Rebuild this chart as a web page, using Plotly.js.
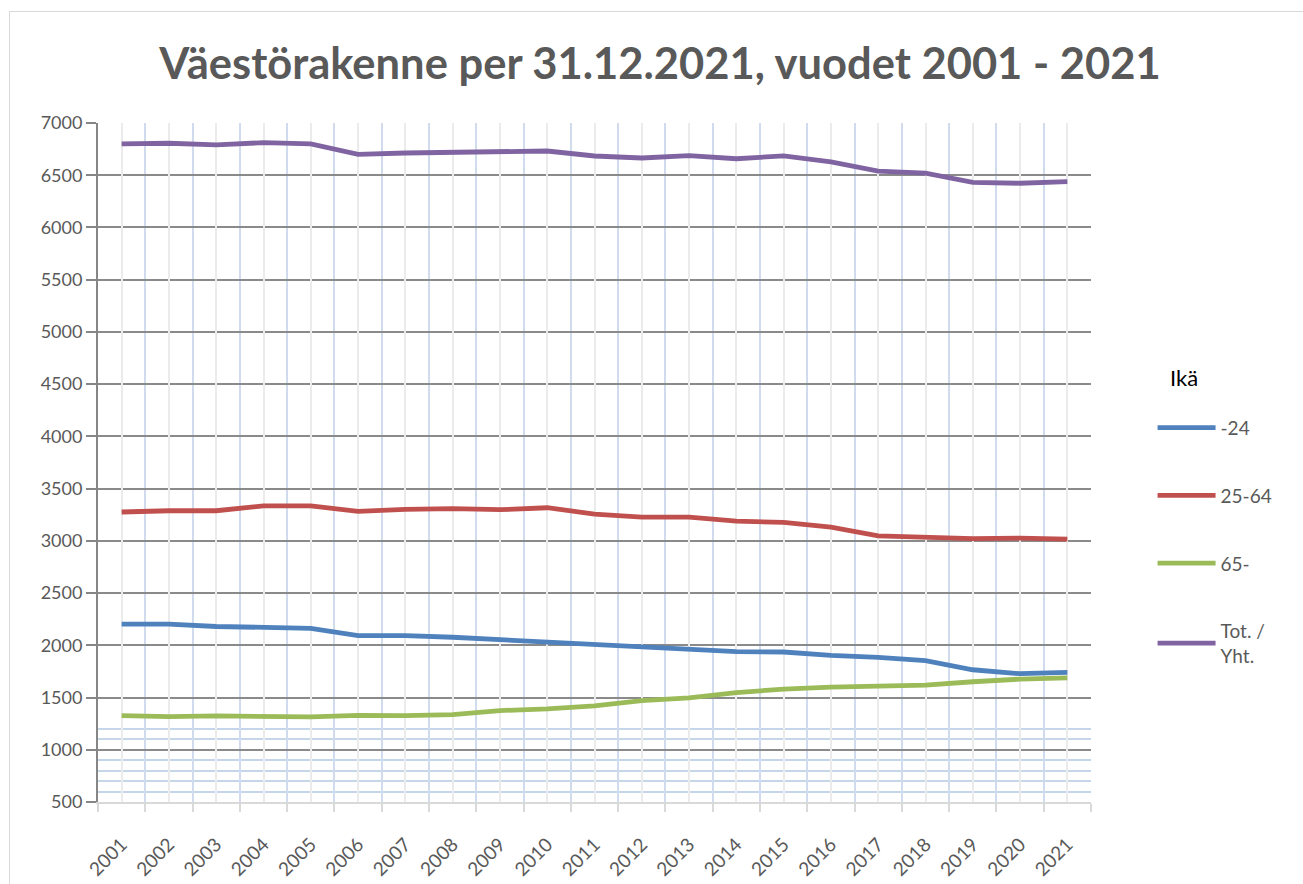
<!DOCTYPE html>
<html>
<head>
<meta charset="utf-8">
<script src="https://cdn.plot.ly/plotly-3.0.1.min.js"></script>
<style>
  html, body { margin: 0; padding: 0; background: #fff; }
  #wrap { position: relative; width: 1303px; height: 884px; }
  #chart { width: 1303px; height: 884px; }
  #frame { position: absolute; left: 9px; top: 11px; width: 1300px; height: 900px;
           border-left: 1.5px solid #d9d9d9; border-top: 1.5px solid #d9d9d9; pointer-events: none; }
</style>
</head>
<body>
<div id="wrap">
  <div id="chart"></div>
  <div id="frame"></div>
</div>
<script>
const years = ['2001','2002','2003','2004','2005','2006','2007','2008','2009','2010','2011',
               '2012','2013','2014','2015','2016','2017','2018','2019','2020','2021'];
const young = [2202,2202,2180,2173,2163,2093,2093,2077,2054,2035,2010,1981,1965,1939,1936,1904,1885,1853,1766,1728,1740];
const working = [3276,3288,3288,3335,3335,3282,3301,3308,3298,3317,3256,3228,3228,3189,3176,3131,3048,3038,3022,3026,3016];
const elderly = [1327,1317,1324,1314,1314,1330,1327,1337,1375,1392,1420,1471,1497,1548,1580,1599,1606,1619,1651,1676,1689];
const total = [6800,6806,6790,6812,6800,6700,6713,6716,6718,6732,6684,6665,6688,6658,6685,6627,6540,6520,6432,6423,6438];
const seriesNames = ['-24','25-64','65-','Tot. /<br>Yht.'];
const seriesColors = ['#4f81bd','#c0504d','#9bbb59','#8064a2'];
const legendTitle = 'Ikä';
const chartTitle = 'Väestörakenne per 31.12.2021, vuodet 2001 - 2021';
const yTickVals = [500,1000,1500,2000,2500,3000,3500,4000,4500,5000,5500,6000,6500,7000];
const minorGridVals = [600,700,800,900,1100,1200];

const FONT = 'Lato, "Open Sans", sans-serif';
const allSeries = [young, working, elderly, total];

const traces = allSeries.map((vals, i) => ({
  type: 'scatter', mode: 'lines',
  x: years, y: vals,
  name: seriesNames[i],
  legendgroup: 'g' + i,
  line: { color: seriesColors[i], width: 4.8, shape: 'linear' },
  hoverinfo: 'x+y+name'
}));

// helper trace so the category-centre gridline axis is drawn
traces.push({
  type: 'scatter', mode: 'lines', x: years.map((_, i) => i), y: total,
  xaxis: 'x2', yaxis: 'y', showlegend: false, hoverinfo: 'skip',
  line: { color: 'rgba(0,0,0,0)', width: 0 }
});

const layout = {
  width: 1303, height: 884,
  paper_bgcolor: '#ffffff', plot_bgcolor: '#ffffff',
  margin: { l: 98, r: 212, t: 123, b: 82 },
  font: { family: FONT, color: '#595959', size: 18 },
  title: {
    text: '<b>' + chartTitle + '</b>',
    font: { family: FONT, size: 43.5, color: '#595959' },
    x: (660 - 98) / 993, xref: 'paper', xanchor: 'center',
    y: 1 - 64/884, yref: 'container', yanchor: 'middle'
  },
  xaxis: {
    type: 'category',
    categoryorder: 'array', categoryarray: years,
    range: [-0.5, 20.5],
    tickson: 'boundaries',
    ticks: 'outside', ticklen: 8, tickwidth: 1.5, tickcolor: '#d9d9d9',
    showline: true, linecolor: '#d9d9d9', linewidth: 2,
    showgrid: true, gridcolor: '#d0dcee', gridwidth: 1.5,
    tickangle: -45,
    ticklabelstandoff: 22,
    tickfont: { family: FONT, size: 19, color: '#595959' },
    zeroline: false, fixedrange: true
  },
  xaxis2: {
    type: 'linear', overlaying: 'x', anchor: 'y',
    range: [-0.5, 20.5], tick0: 0, dtick: 1,
    showgrid: true, gridcolor: '#ebebeb', gridwidth: 1.5,
    showticklabels: false, ticks: '', showline: false, zeroline: false, fixedrange: true
  },
  yaxis: {
    range: [500, 7000],
    tickmode: 'array', tickvals: yTickVals,
    ticksuffix: '\u00a0\u00a0\u00a0',
    ticks: 'outside', ticklen: 10, tickwidth: 1.5, tickcolor: '#868686',
    showline: true, linecolor: '#868686', linewidth: 2,
    showgrid: true, gridcolor: '#8a8a8a', gridwidth: 1.8,
    minor: { tickmode: 'array', tickvals: minorGridVals, showgrid: true,
             gridcolor: '#c6d6ea', gridwidth: 1.5, ticks: '' },
    tickfont: { family: FONT, size: 18, color: '#595959' },
    zeroline: false, fixedrange: true
  },
  showlegend: true,
  legend: {
    x: 1.062, xanchor: 'left', y: 0.579, yanchor: 'top',
    xref: 'paper', yref: 'paper',
    bgcolor: 'rgba(0,0,0,0)',
    font: { family: FONT, size: 19, color: '#595959' },
    tracegroupgap: 40,
    itemwidth: 58,
    traceorder: 'grouped'
  },
  annotations: [{
    text: legendTitle, xref: 'paper', yref: 'paper',
    x: (1168 - 98) / 993, y: (802 - 377) / 679, xanchor: 'left', yanchor: 'middle',
    showarrow: false, font: { family: FONT, size: 22, color: '#000000' }
  }]
};

Plotly.newPlot('chart', traces, layout, { displayModeBar: false });
</script>
</body>
</html>
